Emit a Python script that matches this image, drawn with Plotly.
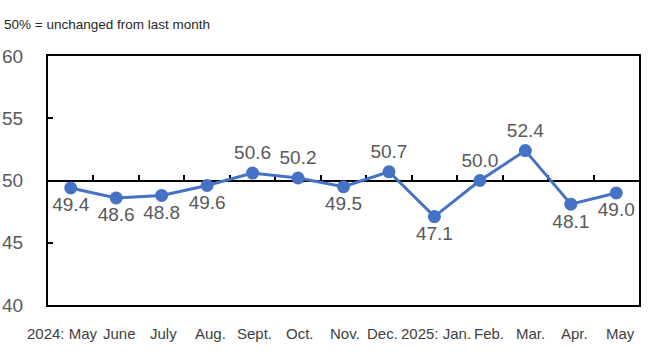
import plotly.graph_objects as go

months = ["2024: May", "June", "July", "Aug.", "Sept.", "Oct.", "Nov.", "Dec.",
          "2025: Jan.", "Feb.", "Mar.", "Apr.", "May"]
values = [49.4, 48.6, 48.8, 49.6, 50.6, 50.2, 49.5, 50.7, 47.1, 50.0, 52.4, 48.1, 49.0]
label_pos = ["bottom center", "bottom center", "bottom center", "bottom center",
             "top center", "top center", "bottom center", "top center",
             "bottom center", "top center", "top center", "bottom center", "bottom center"]
y_ticks = [40, 45, 50, 55, 60]
title_text = "50% = unchanged from last month"

# pixel nudges of the month labels (the reference spreads crowded labels apart)
month_label_shift = [-8, 3, 2, 3, 2, 2, 1, -6, 2, 9, 5, 4, 4]

blue = "#4472C4"
regular = "Liberation Sans, Arial, sans-serif"
xs = list(range(len(months)))

fig = go.Figure()
# invisible trace so that the mid axis (the 50% line) is drawn
fig.add_trace(go.Scatter(
    x=xs, y=values, xaxis="x2", yaxis="y", mode="lines",
    line=dict(width=0, color="rgba(0,0,0,0)"), hoverinfo="skip", showlegend=False,
))
fig.add_trace(go.Scatter(
    x=xs, y=values,
    mode="lines+markers+text",
    line=dict(color=blue, width=3),
    marker=dict(color=blue, size=13),
    text=[f"{v:.1f}" for v in values],
    textposition=label_pos,
    textfont=dict(family=regular, size=19, color="#595959"),
    cliponaxis=True,
    hoverinfo="skip",
))

for x, m, dx in zip(xs, months, month_label_shift):
    fig.add_annotation(
        x=x, y=0, xref="x", yref="paper", text=m, showarrow=False,
        xanchor="center", yanchor="middle", xshift=dx, yshift=-28,
        font=dict(family=regular, size=15, color="#404040"),
    )

fig.update_layout(
    width=650, height=354,
    margin=dict(l=48, r=11, t=56, b=49),
    paper_bgcolor="white", plot_bgcolor="white",
    showlegend=False,
    title=dict(text=title_text, x=4/650, xanchor="left", xref="container",
               y=1 - 24/354, yanchor="middle", yref="container",
               font=dict(family=regular, size=13.5, color="#262626")),
    xaxis=dict(
        range=[-0.5, len(months) - 0.5],
        tickmode="array", tickvals=xs, showticklabels=False,
        automargin=False,
        showgrid=False, zeroline=False, ticks="",
        showline=True, linecolor="black", linewidth=2, mirror=True,
    ),
    xaxis2=dict(
        overlaying="x", anchor="free", position=0.5, side="bottom",
        range=[-0.5, len(months) - 0.5],
        tickmode="array", tickvals=[i + 0.5 for i in range(len(months) - 1)],
        showticklabels=False, ticks="inside", ticklen=5, tickwidth=2, tickcolor="black",
        showgrid=False, zeroline=False,
        showline=True, linecolor="black", linewidth=2,
        layer="below traces",
    ),
    yaxis=dict(
        range=[40, 60], tickmode="array", tickvals=y_ticks,
        automargin=False,
        showgrid=False, zeroline=False,
        ticks="inside", ticklen=5, tickwidth=2, tickcolor="black",
        showline=True, linecolor="black", linewidth=2, mirror=True,
        tickfont=dict(family=regular, size=19, color="#595959"),
        ticklabelstandoff=19,
    ),
)

fig.write_html("out.html")
